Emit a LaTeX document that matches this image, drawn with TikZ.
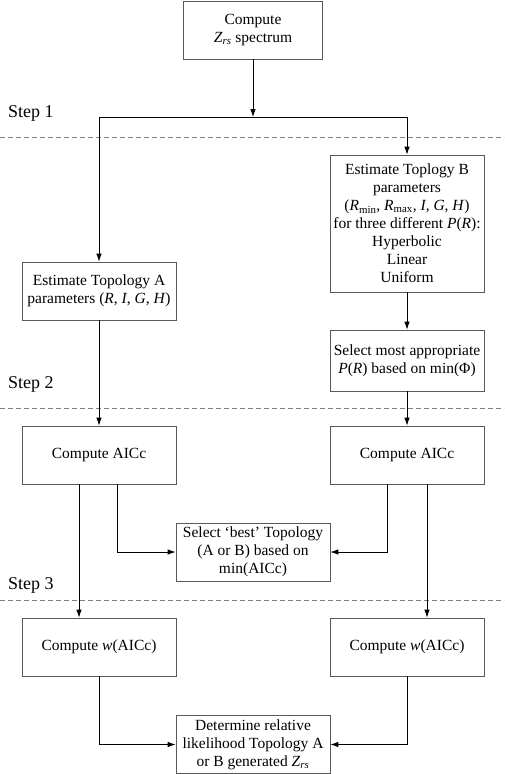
\documentclass[tikz,border=0pt]{standalone}
\usepackage{fontspec}
\setmainfont{Liberation Serif}
\usetikzlibrary{arrows.meta}

\newcommand{\vZrs}{\textit{Z}\textsubscript{\textit{rs}}}
\newcommand{\vR}{\textit{R}}

\tikzset{
	box/.style={draw=black!65, line width=0.7pt, align=center, minimum width=154pt,
		minimum height=58pt, inner sep=2pt, font=\fontsize{15.5}{18}\selectfont},
	steplabel/.style={anchor=west, inner sep=0pt, font=\fontsize{18}{21}\selectfont},
	stepline/.style={black!50, line width=0.8pt, dash pattern=on 5pt off 3pt},
	link/.style={-{Latex[length=8pt,width=5.5pt]}, line width=0.8pt}
}

\begin{document}
\begin{tikzpicture}[x=1pt, y=-1pt]
	\useasboundingbox (0,0) rectangle (504,774);
	% Kaesten
	\node[box, minimum width=139pt] (spec) at (253,30) {Compute\\ \vZrs{} spectrum};
	\node[box] (topA) at (99,291) {Estimate Topology A\\ parameters (\vR, \textit{I}, \textit{G}, \textit{H})};
	\node[box, minimum height=137pt] (topB) at (407,223.5) {Estimate Toplogy B\\ parameters\\
		(\vR\textsubscript{min}, \vR\textsubscript{max}, \textit{I}, \textit{G}, \textit{H})\\
		for three different \textit{P}(\vR):\\ Hyperbolic\\ Linear\\ Uniform};
	\node[box, minimum height=61pt] (selP) at (407,360.5) {Select most appropriate\\ \textit{P}(\vR) based on min(Φ)};
	\node[box] (aicA) at (99,455) {Compute AICc};
	\node[box] (aicB) at (407,455) {Compute AICc};
	\node[box] (best) at (253,552) {Select ‘best’ Topology\\ (A or B) based on\\ min(AICc)};
	\node[box] (wA) at (99,647) {Compute \textit{w}(AICc)};
	\node[box] (wB) at (407,647) {Compute \textit{w}(AICc)};
	\node[box] (det) at (253,744.5) {Determine relative\\ likelihood Topology A\\ or B generated \vZrs};
	% Schritte
	\node[steplabel] (s1) at (8,113) {Step 1};
	\node[steplabel] (s2) at (8,384) {Step 2};
	\node[steplabel] (s3) at (8,585) {Step 3};
	\draw[stepline] (0,137) -- (504,137);
	\draw[stepline] (0,408) -- (504,408);
	\draw[stepline] (0,600) -- (504,600);
	% Verbindungen
	\coordinate (split) at (253,117);
	\draw[link] (spec) -- (split);
	\draw[link] (split) -| (topA.north);
	\draw[link] (split) -| (topB.north);
	\draw[link] (topB) -- (selP);
	\draw[link] (topA) -- (aicA);
	\draw[link] (selP) -- (aicB);
	\draw[link] ([xshift=18pt]aicA.south) |- (best.west);
	\draw[link] ([xshift=-20pt]aicB.south) |- (best.east);
	\draw[link] ([xshift=-20pt]aicA.south) -- ([xshift=-20pt]wA.north);
	\draw[link] ([xshift=20pt]aicB.south) -- ([xshift=20pt]wB.north);
	\draw[link] (wA) |- (det.west);
	\draw[link] (wB) |- (det.east);
\end{tikzpicture}
\end{document}
